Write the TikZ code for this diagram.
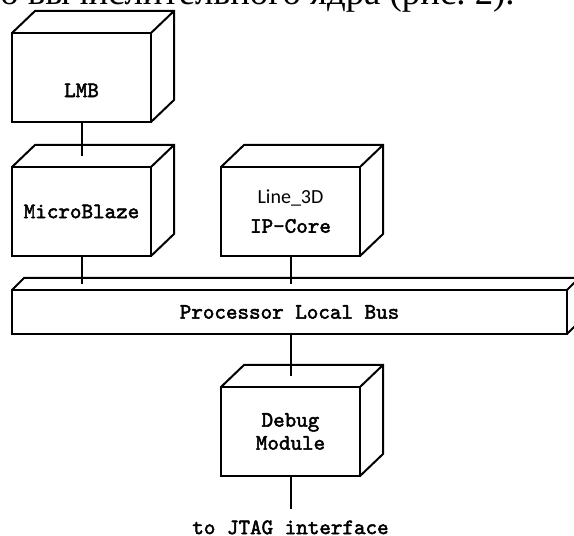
\documentclass[tikz,border=0pt]{standalone}
\usepackage{fontspec}
\setmainfont{Liberation Serif}
\newfontfamily\labelfont{Carlito}
\newfontfamily\codefont{Latin Modern Mono}[FakeBold=2.2]
\usetikzlibrary{positioning}

\begin{document}
\begin{tikzpicture}[
    x=1pt, y=1pt,
    node distance=22.5pt and 35pt,
    edge/.style={line width=1pt},
    block/.style={draw, edge, rectangle, minimum width=69.5pt, minimum height=44.5pt, inner sep=0pt, outer sep=0pt, align=center, font=\codefont\fontsize{11}{11.5}\selectfont},
    bus/.style={block, minimum width=277.5pt, minimum height=22pt},
    note/.style={inner sep=0pt, inner ysep=5.5pt, font=\codefont\fontsize{11}{11.5}\selectfont}
]
    \useasboundingbox (0,0) rectangle (287,268);
    \clip (0,0) rectangle (287,268);
    % cut-off line of the page text above the figure
    \node[anchor=base west, inner sep=0pt, font=\fontsize{18.4}{20}\selectfont] (head) at (0,265.5) {о вычислительного ядра (рис.~2).};

    \node[block] (lmb) at (40.75,229.25) {\strut\\LMB};
    \node[block] (mb) [below=of lmb] {MicroBlaze};
    \node[block] (ip) [right=of mb] {{\labelfont\fontsize{10}{11}\selectfont Line\_3D}\\[3pt]IP-Core};
    \node[bus] (plb) [below=17pt of mb.south west, anchor=north west] {Processor Local Bus};
    \coordinate (tap) at (plb.south -| ip.south);
    \node[block] (dbg) [below=26.5pt of tap] {Debug\\Module};
    \node[note] (jtag) [below=16.5pt of dbg] {to JTAG interface};

    % top and side faces
    \foreach \n/\dx/\dy in {lmb/11.5/11, mb/11.5/11, ip/11.5/11, dbg/11.5/11, plb/6/6} {
        \draw[edge] (\n.north west) -- ++(\dx,\dy) -- ([shift={(\dx,\dy)}]\n.north east) -- ([shift={(\dx,\dy)}]\n.south east) -- (\n.south east);
        \draw[edge] (\n.north east) -- ++(\dx,\dy);
    }

    \draw[edge] (lmb.south) -- ([yshift=5.5pt]mb.north);
    \draw[edge] (mb.south) -- ([yshift=3pt]mb.south |- plb.north);
    \draw[edge] (ip.south) -- ([yshift=3pt]ip.south |- plb.north);
    \draw[edge] (tap) -- ([yshift=5.5pt]dbg.north);
    \draw[edge] (dbg.south) -- (jtag.north);
\end{tikzpicture}
\end{document}
